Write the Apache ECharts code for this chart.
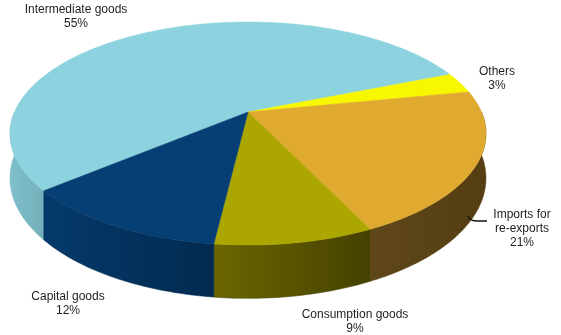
<!DOCTYPE html>
<html>
<head>
<meta charset="utf-8">
<script src="https://cdn.jsdelivr.net/npm/echarts@6/dist/echarts.min.js"></script>
<style>
  html, body { margin: 0; padding: 0; background: #fff; }
  #main { width: 561px; height: 335px; }
</style>
</head>
<body>
<div id="main"></div>
<script>
// data
var categories = ['Intermediate goods', 'Others', 'Imports for\nre-exports', 'Consumption goods', 'Capital goods'];
var shares = [55, 3, 21, 9, 12];

// colours: top face, side gradient (left -> right)
var topColors = ['#8cd3df', '#f7f700', '#e0aa30', '#aba600', '#063f74'];
var sideColors = [['#7fc0cb', '#74b0ba'], ['#b5b500', '#a0a000'], ['#5f4719', '#543e12'], ['#6b6600', '#454100'], ['#043a6b', '#022a50']];

// label anchors (layout only)
var labelPos = [[76, 17], [497, 79], [522, 229], [355, 322], [68, 304]];

// pseudo 3D geometry
var X0 = 248, Y0 = 112, RX = 233.5, RY = 107.4, P = 0.193, DEPTH = 43;
var START = 140;

var total = shares.reduce(function (s, v) { return s + v }, 0);
var startAngles = [];
var acc = START;
for (var k = 0; k < shares.length; k++) {
  startAngles.push(acc);
  acc += shares[k] / total * 360;
}

function proj (deg, drop) {
  var t = deg * Math.PI / 180
  var u = Math.cos(t), v = Math.sin(t)
  var w = 1 - P * v
  return [X0 + RX * u / w, Y0 + RY * v / w + (drop || 0) / w]
}

function arc (a, b, drop) {
  var pts = []
  var n = Math.max(2, Math.ceil(Math.abs(b - a)))
  for (var j = 0; j <= n; j++) {
    pts.push(proj(a + (b - a) * j / n, drop))
  }
  return pts
}

function renderItem (params, api) {
  var i = params.dataIndex
  var a0 = startAngles[i]
  var a1 = a0 + api.value(0) / total * 360
  var children = []

  // side faces: only the front half of the rim is visible
  var ranges = [[0, 180], [360, 540]]
  ranges.forEach(function (r) {
    var s = Math.max(a0, r[0]), e = Math.min(a1, r[1])
    if (e - s <= 0) return
    var topRim = arc(s, e, 0)
    var botRim = arc(e, s, DEPTH)
    var xs = topRim.map(function (p) { return p[0] })
    var x1 = Math.min.apply(null, xs), x2 = Math.max.apply(null, xs)
    children.push({
      type: 'polygon',
      z2: 1,
      shape: { points: topRim.concat(botRim) },
      style: {
        fill: {
          type: 'linear', x: x1, y: 0, x2: x2, y2: 0, global: true,
          colorStops: [
            { offset: 0, color: sideColors[i][0] },
            { offset: 1, color: sideColors[i][1] }
          ]
        },
        stroke: sideColors[i][1],
        lineWidth: 0.5
      }
    })
  })

  // top face
  children.push({
    type: 'polygon',
    z2: 10,
    shape: { points: [[X0, Y0]].concat(arc(a0, a1, 0)) },
    style: { fill: topColors[i], stroke: topColors[i], lineWidth: 0.5 }
  })

  // label
  children.push({
    type: 'text',
    z2: 20,
    x: labelPos[i][0],
    y: labelPos[i][1],
    style: {
      text: categories[i] + '\n' + api.value(0) + '%',
      fill: '#1e1e1e',
      font: '12px "Liberation Sans", Arial, sans-serif',
      lineHeight: 14,
      align: 'center',
      verticalAlign: 'middle'
    }
  })

  return { type: 'group', children: children }
}

var myChart = echarts.init(document.getElementById('main'))
var option = {
  backgroundColor: '#fff',
  animation: false,
  series: [{
    type: 'custom',
    coordinateSystem: 'none',
    renderItem: renderItem,
    data: shares
  }],
  graphic: [{
    type: 'polyline',
    z: 10,
    shape: { points: [[468, 216], [470, 219], [473, 220.5], [477, 221], [487, 221]] },
    style: { fill: null, stroke: '#111', lineWidth: 1.3 }
  }]
}
myChart.setOption(option, true)
window.addEventListener('resize', function () {
  myChart.resize()
})
</script>
</body>
</html>
